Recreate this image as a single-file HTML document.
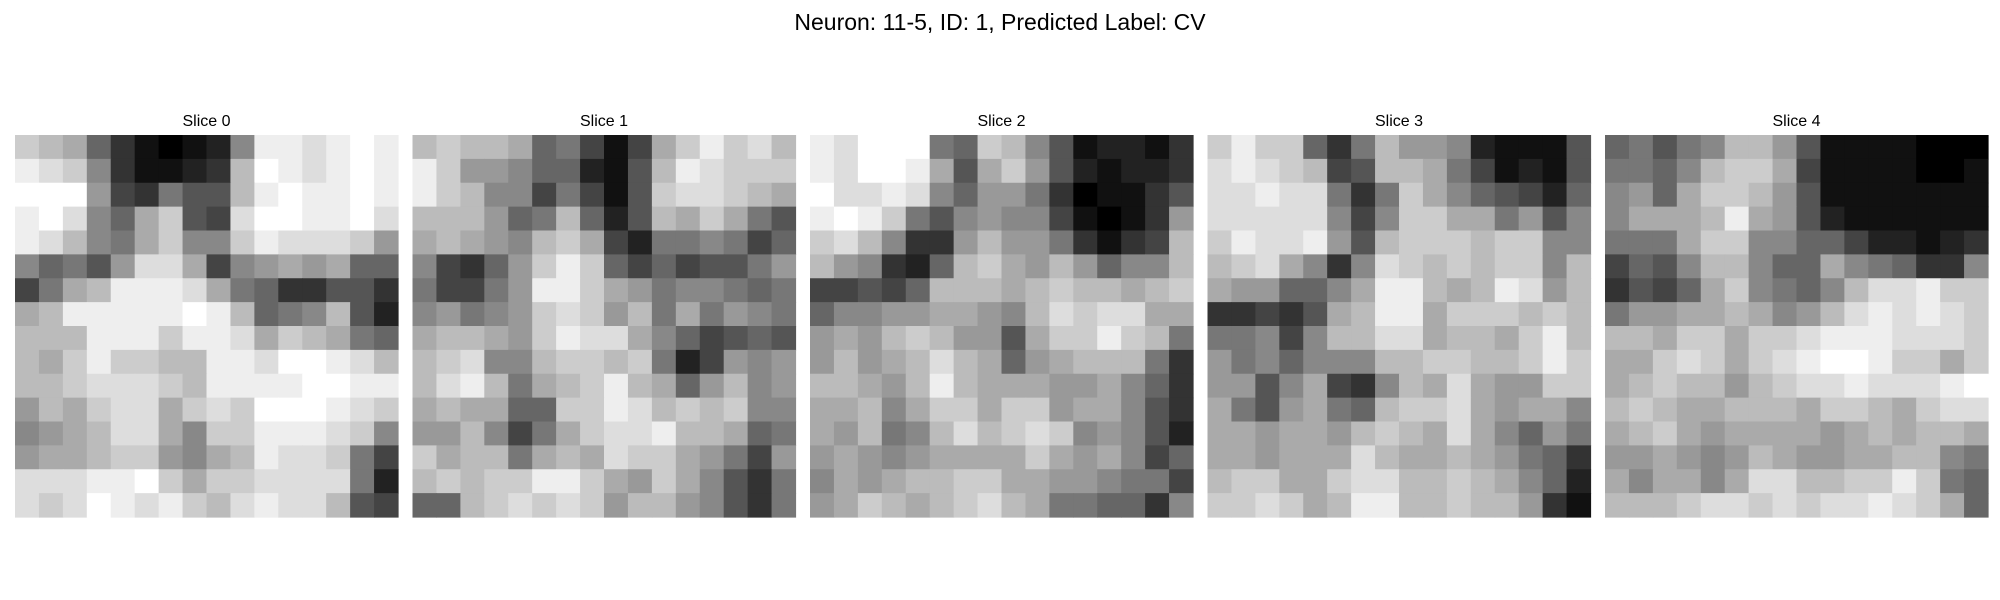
<!DOCTYPE html>
<html><head><meta charset="utf-8"><style>
html,body{margin:0;padding:0;background:#fff;}
svg{display:block;font-family:"Liberation Sans","DejaVu Sans",sans-serif;}
</style></head><body>
<svg id="fig" width="2000" height="600" viewBox="0 0 2000 600">
<text x="1000" y="30" text-anchor="middle" font-size="23" fill="#000">Neuron: 11-5, ID: 1, Predicted Label: CV</text>
</svg>
<script>
const sliceTitles = ["Slice 0","Slice 1","Slice 2","Slice 3","Slice 4"];
const slice0 = ["cba6310128eedefe","edc831123bfedefe","fff943755befeefe","efd86ac54dffeefd","edb87ac88cedddc9","86759dda489a9a66","47abeeeda7633553","abeeeeefeb678b52","bbbeeeceedacba76","baceccbbeedffedb","bbcdddcbeeeeffee","9bacddacdcfffedc","89abdda8cceeedc8","9aabcc98abeddc74","dddeefcaccdddd72","dcdfedecbdeddb54"];
const slice1 = ["bcbba67414acecdb","ec99866215bedccc","ecb8847415cddcba","bbb967b625baca75","aba98bca42778746","84369cec64645579","74479eeca9788767","89789cdc9b7a7987","abba9cedda864565","bcd88bccbc724989","bdeb7abceba69b89","abaa66ccedbcbc88","99b847acddebba67","cabb7abadcca9749","bcbcceeca9ca8537","66bcdcdc9bb98537"];
const slice2 = ["edfff76cb8512213","edffea5ac9521223","fdded86997301135","efec758988410139","cdb8339b9973134b","b98326bca9b9688b","44546bbbabcbbabc","68899aa98bdcddaa","9a9bcb995accecb7","9b9abdba69abbb73","bba9bebaaa99a863","aab8accacc9aa853","a9b78bdbcdc89852","9a989aaaaca9a846","8a9abbccaa998774","9acbabcdba776638"];
const slice3 = ["cecc637b99821115","dedcb45bba741215","ddedd737ca865426","ddddd848ccaa7958","cedde95bcccbcc88","bcda838dcbcbcc8b","a99668aeebabed9b","33435abeeacccbcb","77848bbddabbaceb","9786888bbccbbcec","9958a438bada99cc","a759a76bccda9aa8","aa9aa9bcbada8697","aa9aaadbaaba9763","bccaacddbbcba862","ccdcabeebbcbb931"];
const slice4 = ["67578bb951111000","7768bcca41111001","896accb951111111","8aaabea952111111","777acc8866422123","4658bb866a876338","3546ac8768bddecc","799aaba89bdededc","bbaccaccdeeedddc","aacdcacdeffeccac","abcbb9bcddedddef","bcbaabbbaccbacdd","abca9aaaa9ababba","99a989ba99aabb87","a8aa8addbbccec76","bbbcddcdcddedca6"];
const slices = [slice0, slice1, slice2, slice3, slice4];
</script>
<script>
const svg = document.getElementById('fig');
const NS = 'http://www.w3.org/2000/svg';
const panelX = i => 15 + i * 397.5;
const panelY = 135, panelW = 383, panelH = 382;
slices.forEach((rows, i) => {
  const g = document.createElementNS(NS, 'g');
  
  
  svg.appendChild(g);
  const n = rows.length;
  rows.forEach((row, r) => {
    const vals = row.split('');
    const m = vals.length;
    vals.forEach((ch, c) => {
      const v = parseInt(ch, 16) * 17;
      const x0 = panelX(i) + c * panelW / m, x1 = panelX(i) + (c + 1) * panelW / m;
      const y0 = panelY + r * panelH / n, y1 = panelY + (r + 1) * panelH / n;
      const rect = document.createElementNS(NS, 'rect');
      
      
      rect.setAttribute('x', x0.toFixed(2));
      rect.setAttribute('y', y0.toFixed(2));
      rect.setAttribute('width', (x1 - x0 + 0.6).toFixed(2));
      rect.setAttribute('height', (y1 - y0 + 0.6).toFixed(2));
      rect.setAttribute('fill', 'rgb(' + v + ',' + v + ',' + v + ')');
      g.appendChild(rect);
    });
  });
  const t = document.createElementNS(NS, 'text');
  
  
  t.setAttribute('x', (panelX(i) + panelW / 2).toFixed(1));
  t.setAttribute('y', '126');
  t.setAttribute('text-anchor', 'middle');
  t.setAttribute('font-size', '16');
  t.textContent = sliceTitles[i];
  svg.appendChild(t);
});
</script>
</body></html>
